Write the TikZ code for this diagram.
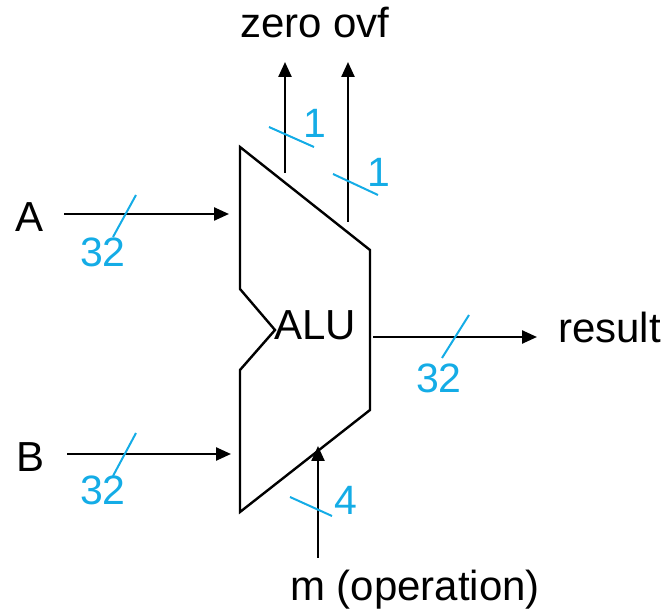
\documentclass[tikz,border=0pt]{standalone}
\usepackage{fontspec}
\setmainfont{Liberation Sans}
\usetikzlibrary{arrows.meta}
\definecolor{busblue}{RGB}{20,172,230}
\begin{document}
\begin{tikzpicture}[x=1pt,y=-1pt,
  wire/.style={line width=2.4pt, -{Triangle[length=15pt,width=13pt]}},
  busmark/.style={draw=busblue, line width=2pt},
  txt/.style={inner sep=0pt, anchor=base west, font=\fontsize{42}{50}\selectfont},
  btxt/.style={inner sep=0pt, anchor=base west, text=busblue, font=\fontsize{41}{49}\selectfont}]
\useasboundingbox (0,0) rectangle (670,609);
% ALU outline
\coordinate (tl) at (240,147);
\coordinate (tr) at (370,250);
\coordinate (br) at (370,410);
\coordinate (bl) at (240,512);
\coordinate (lb) at (240,370);
\coordinate (notch) at (275,330);
\coordinate (lt) at (240,289);
\draw[line width=2.4pt, line join=miter] (tl) -- (tr) -- (br) -- (bl) -- (lb) -- (notch) -- (lt) -- cycle;
\node[txt] (alu) at (274,340) {ALU};
% labels
\node[txt] (a) at (15,232) {A};
\node[txt] (b) at (16,472) {B};
\node[txt] (zo) at (240,38) {zero ovf};
\node[txt] (res) at (558,343) {result};
\node[txt] (m) at (290,601) {m (operation)};
% wire end points
\coordinate (ain) at (64,214);
\coordinate (aend) at (229,214);
\coordinate (bin) at (67,454);
\coordinate (bend) at (231,454);
\coordinate (rin) at (373,337);
\coordinate (rend) at (537,337);
\coordinate (zin) at (285,173);
\coordinate (zend) at (285,62);
\coordinate (oin) at (348,222);
\coordinate (oend) at (348,62);
\coordinate (min) at (318,558);
\coordinate (mend) at (318,446);
\draw[wire] (ain) -- (aend);
\draw[wire] (bin) -- (bend);
\draw[wire] (rin) -- (rend);
\draw[wire] (zin) -- (zend);
\draw[wire] (oin) -- (oend);
\draw[wire] (min) -- (mend);
% bus width marks
\coordinate (sa1) at (136,195); \coordinate (sa2) at (113,237);
\coordinate (sb1) at (136,433); \coordinate (sb2) at (113,476);
\coordinate (sr1) at (469,315); \coordinate (sr2) at (442,358);
\coordinate (sz1) at (269,127); \coordinate (sz2) at (314,147);
\coordinate (so1) at (333,174); \coordinate (so2) at (378,195);
\coordinate (sm1) at (290,497); \coordinate (sm2) at (332,516);
\draw[busmark] (sa1) -- (sa2);
\draw[busmark] (sb1) -- (sb2);
\draw[busmark] (sr1) -- (sr2);
\draw[busmark] (sz1) -- (sz2);
\draw[busmark] (so1) -- (so2);
\draw[busmark] (sm1) -- (sm2);
\node[btxt] (na) at (80,267) {32};
\node[btxt] (nb) at (80,505) {32};
\node[btxt] (nr) at (416,393) {32};
\node[btxt] (nz) at (303,138) {1};
\node[btxt] (no) at (367,187) {1};
\node[btxt] (nm) at (334,515) {4};
\end{tikzpicture}
\end{document}
